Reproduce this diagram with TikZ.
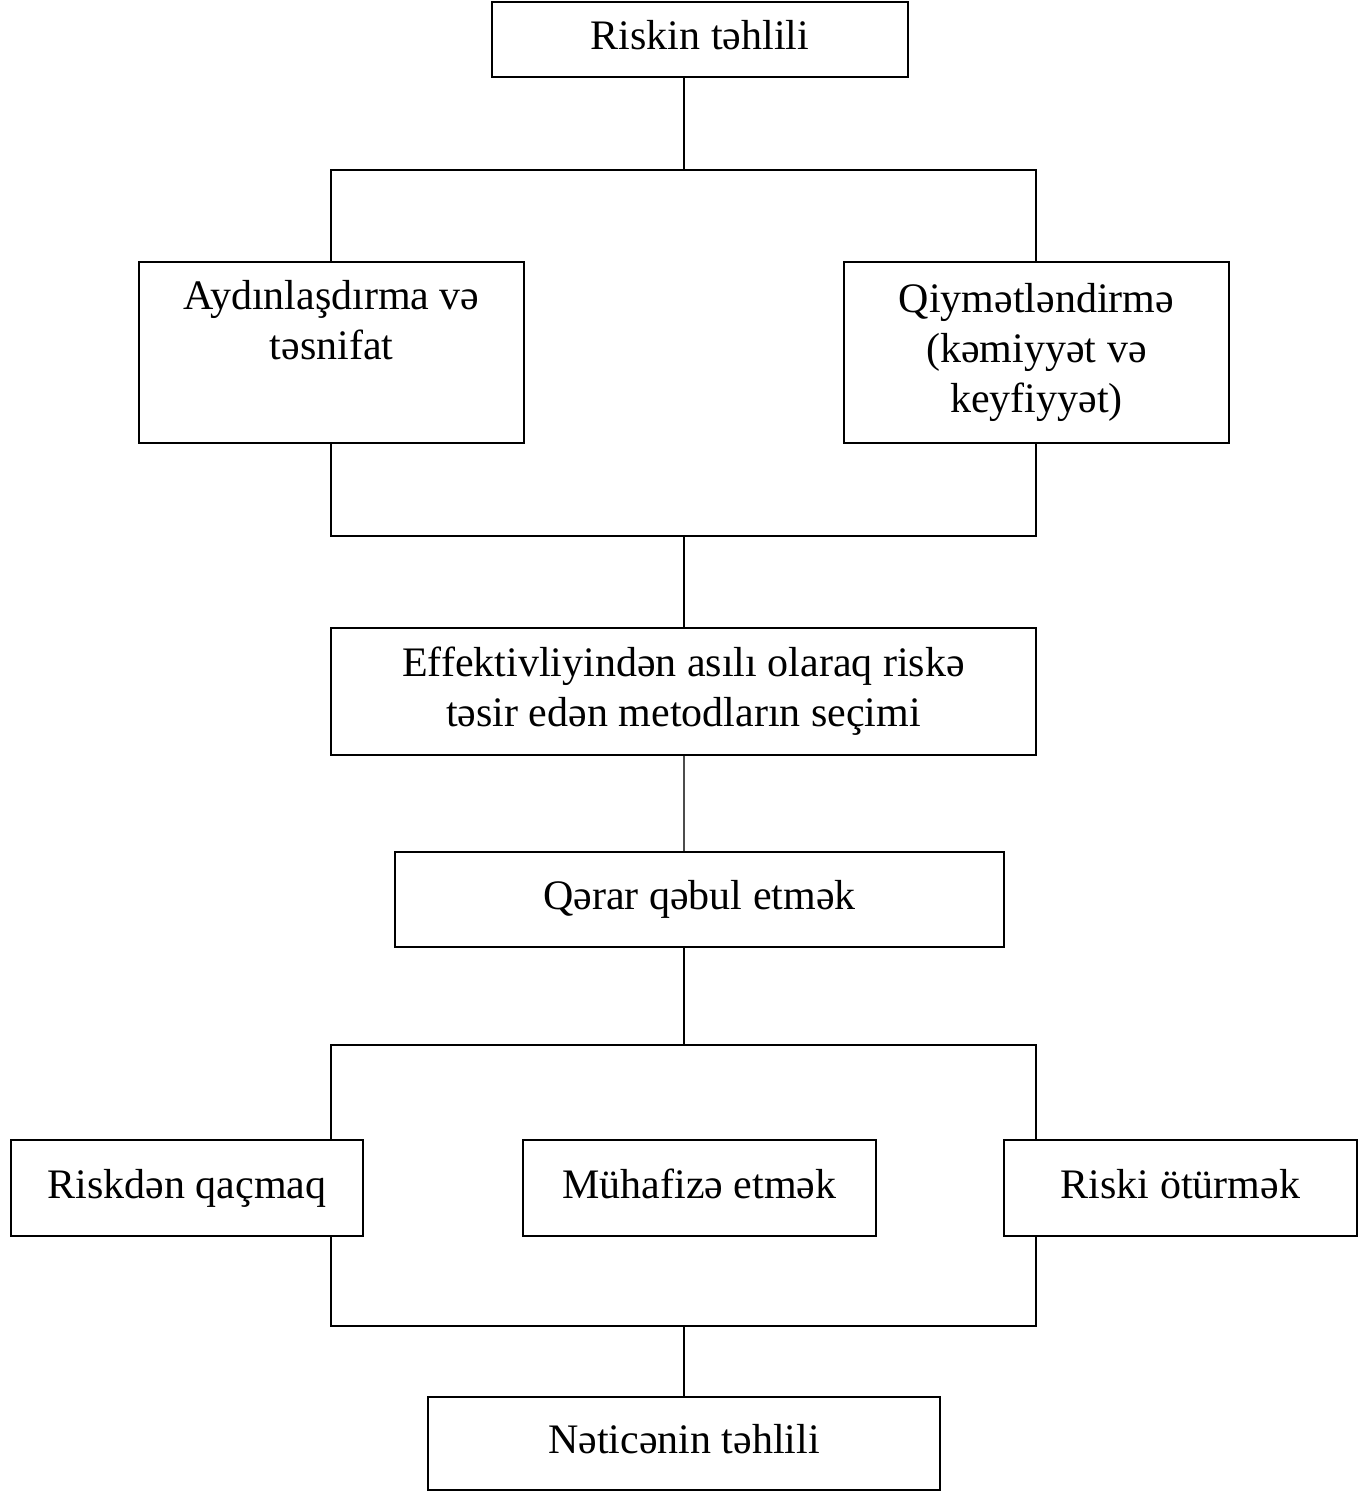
\documentclass[tikz,border=0pt]{standalone}
\usepackage{fontspec}
\setmainfont{Liberation Serif}
\begin{document}
\begin{tikzpicture}[x=0.5pt,y=-0.5pt,
  box/.style={draw, line width=1.2pt, inner sep=0pt, align=center,
    font=\fontsize{21}{25}\selectfont},
  conn/.style={line width=1.2pt},
  thinconn/.style={line width=0.9pt, draw=black!70}]
\useasboundingbox (0,0) rectangle (1367,1493);
\node[box, minimum width=208pt, minimum height=37.5pt] (top) at (700,39.5) {\strut Riskin təhlili};
\node[box, minimum width=192.5pt, minimum height=90.5pt] (ayd) at (331.5,352.5) {Aydınlaşdırma və\\təsnifat\\\strut};
\node[box, minimum width=192.5pt, minimum height=90.5pt] (qiy) at (1036.5,352.5) {Qiymətləndirmə\\(kəmiyyət və\\keyfiyyət)};
\node[box, minimum width=352.5pt, minimum height=63.5pt] (eff) at (683.5,691.5) {Effektivliyindən asılı olaraq riskə\\təsir edən metodların seçimi};
\node[box, minimum width=304.5pt, minimum height=47.5pt] (qer) at (699.5,899.5) {\strut Qərar qəbul etmək};
\node[box, minimum width=176pt, minimum height=48pt] (rq) at (187,1188) {\strut Riskdən qaçmaq};
\node[box, minimum width=176.5pt, minimum height=48pt] (mh) at (699.5,1188) {\strut Mühafizə etmək};
\node[box, minimum width=176.5pt, minimum height=48pt] (ro) at (1180.5,1188) {\strut Riski ötürmək};
\node[box, minimum width=256pt, minimum height=46.5pt] (net) at (684,1443.5) {\strut Nəticənin təhlili};

\coordinate (b1) at (684,170);
\coordinate (b1L) at (331,170);
\coordinate (b1R) at (1036,170);
\coordinate (b2) at (684,536);
\coordinate (b2L) at (331,536);
\coordinate (b2R) at (1036,536);
\coordinate (b3) at (684,1045);
\coordinate (b3L) at (331,1045);
\coordinate (b3R) at (1036,1045);
\coordinate (b4) at (684,1326);
\coordinate (b4L) at (331,1326);
\coordinate (b4R) at (1036,1326);

\draw[conn] (top.south -| b1) -- (b1);
\draw[conn] (b1L |- ayd.north) -- (b1L) -- (b1R) -- (b1R |- qiy.north);
\draw[conn] (b2L |- ayd.south) -- (b2L) -- (b2R) -- (b2R |- qiy.south);
\draw[conn] (b2) -- (eff.north -| b2);
\draw[thinconn] (eff.south -| b2) -- (qer.north -| b2);
\draw[conn] (qer.south -| b3) -- (b3);
\draw[conn] (b3L |- rq.north) -- (b3L) -- (b3R) -- (b3R |- ro.north);
\draw[conn] (b4L |- rq.south) -- (b4L) -- (b4R) -- (b4R |- ro.south);
\draw[conn] (b4) -- (b4 |- net.north);
\end{tikzpicture}
\end{document}
